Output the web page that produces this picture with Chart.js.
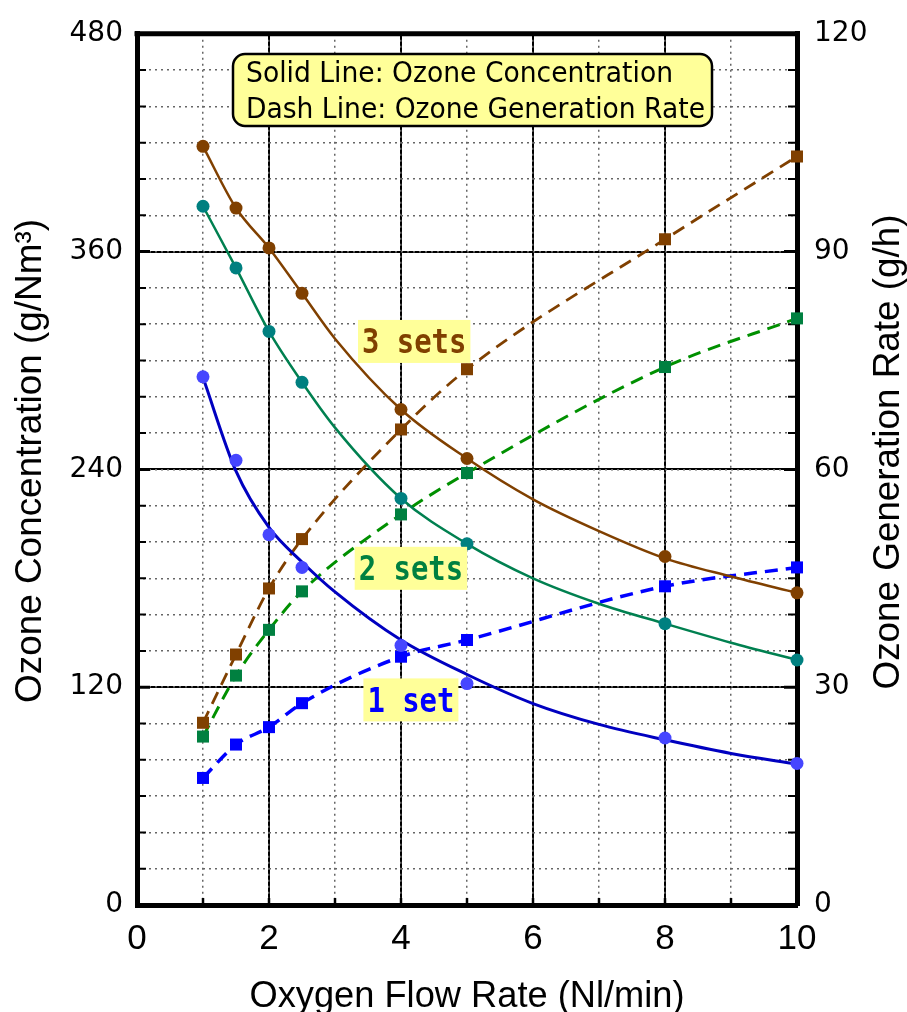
<!DOCTYPE html>
<html>
<head>
<meta charset="utf-8">
<script src="https://cdn.jsdelivr.net/npm/chart.js@4.4.0/dist/chart.umd.min.js"></script>
<style>
  html, body { margin: 0; padding: 0; background: #fff; }
  #wrap { width: 907px; height: 1012px; }
</style>
</head>
<body>
<div id="wrap"><canvas id="ozoneChart" width="907" height="1012"></canvas></div>
<script>
// Oxygen flow rate (Nl/min) of every measured point
const flowRate = [1, 1.5, 2, 2.5, 4, 5, 8, 10];

// Ozone concentration (g/Nm3), measured points
const conc3Sets = [418, 384, 362, 337, 273, 246, 192, 172];
const conc2Sets = [385, 351, 316, 288, 224, 199, 155, 135];
const conc1Sets = [291, 245, 204, 186, 143, 122, 92, 78];

// Solid trend lines
const curveFlow = [1, 1.5, 2, 2.5, 3, 4, 5, 6, 7, 8, 9, 10];
const curve3Sets = [418, 384, 362, 337, 312, 273, 246, 223.5, 206, 191, 181, 172];
const curve2Sets = [385, 351, 316, 288, 263, 224, 199, 180, 166, 155, 144.5, 135];
const curve1Set = [290.6, 239, 208, 189, 172.5, 146, 127, 111, 99.5, 91, 83.5, 77.6];

// Ozone generation rate (g/h)
const rate3Sets = [25.1, 34.5, 43.6, 50.4, 65.5, 73.8, 91.7, 103.1];
const rate2Sets = [23.2, 31.6, 37.9, 43.2, 53.8, 59.5, 74.1, 80.8];
const rate1Sets = [17.5, 22.1, 24.5, 27.8, 34.2, 36.5, 43.9, 46.5];

// Tick labels and minor grid positions
const flowTicks = [0, 2, 4, 6, 8, 10];
const flowMinorTicks = [0, 1, 2, 3, 4, 5, 6, 7, 8, 9, 10];
const concTicks = [0, 120, 240, 360, 480];
const concMinorTicks = [0, 20, 40, 60, 80, 100, 120, 140, 160, 180, 200, 220, 240,
                        260, 280, 300, 320, 340, 360, 380, 400, 420, 440, 460, 480];
const rateTicks = [0, 30, 60, 90, 120];

const BROWN = '#804000';

// in-plot series labels, placed in data units
const seriesLabels = [
    { text: '3 sets', x: 4.2, y: 310.5, color: BROWN },
    { text: '2 sets', x: 4.15, y: 185.5, color: '#008040' },
    { text: '1 set', x: 4.15, y: 113, color: '#0000ff' }
];

function toPoints(xs, ys) {
    return xs.map((x, i) => ({ x: x, y: ys[i] }));
}

function useTicks(values) {
    return function(scale) {
        scale.ticks = values.map(v => ({ value: v }));
    };
}

function drawStretched(ctx, text, x, y, width, font, color, angle, align, baseline) {
    ctx.save();
    ctx.translate(x, y);
    if (angle) ctx.rotate(angle);
    ctx.font = font;
    const natural = ctx.measureText(text).width;
    ctx.scale(width / natural, 1);
    ctx.fillStyle = color;
    ctx.textAlign = align || 'center';
    ctx.textBaseline = baseline || 'alphabetic';
    ctx.fillText(text, 0, 0);
    ctx.restore();
}

function roundRect(ctx, x, y, w, h, r) {
    ctx.beginPath();
    ctx.moveTo(x + r, y);
    ctx.lineTo(x + w - r, y);
    ctx.arcTo(x + w, y, x + w, y + r, r);
    ctx.lineTo(x + w, y + h - r);
    ctx.arcTo(x + w, y + h, x + w - r, y + h, r);
    ctx.lineTo(x + r, y + h);
    ctx.arcTo(x, y + h, x, y + h - r, r);
    ctx.lineTo(x, y + r);
    ctx.arcTo(x, y, x + r, y, r);
    ctx.closePath();
}

const decorPlugin = {
    id: 'decor',
    beforeDatasetsDraw(chart) {
        const ctx = chart.ctx;
        const a = chart.chartArea;
        const xs = chart.scales.x, ys = chart.scales.y;
        ctx.save();
        ctx.strokeStyle = '#000';
        // top frame line
        ctx.lineWidth = 5;
        ctx.beginPath();
        ctx.moveTo(a.left - 2.5, a.top);
        ctx.lineTo(a.right + 2.5, a.top);
        ctx.stroke();
        // inward tick marks
        concMinorTicks.forEach(v => {
            const py = ys.getPixelForValue(v);
            const major = concTicks.includes(v);
            ctx.lineWidth = major ? 3 : 2;
            const len = major ? 13 : 9;
            ctx.beginPath();
            ctx.moveTo(a.left, py); ctx.lineTo(a.left + len, py);
            ctx.moveTo(a.right, py); ctx.lineTo(a.right - len, py);
            ctx.stroke();
        });
        flowMinorTicks.forEach(v => {
            const px = xs.getPixelForValue(v);
            ctx.lineWidth = 2.5;
            ctx.beginPath();
            ctx.moveTo(px, a.bottom); ctx.lineTo(px, a.bottom - 7);
            ctx.stroke();
        });
        ctx.restore();
    },
    afterDatasetsDraw(chart) {
        const ctx = chart.ctx;
        const a = chart.chartArea;
        const xs = chart.scales.x, ys = chart.scales.y;
        ctx.save();
        // legend box
        roundRect(ctx, a.left + 96, 54, 479, 72, 12);
        ctx.fillStyle = '#ffff99';
        ctx.fill();
        ctx.lineWidth = 2.5;
        ctx.strokeStyle = '#000';
        ctx.stroke();
        drawStretched(ctx, 'Solid Line: Ozone Concentration', a.left + 109, 82, 427,
            '28px "DejaVu Sans"', '#000', 0, 'left');
        drawStretched(ctx, 'Dash Line: Ozone Generation Rate', a.left + 109, 118, 459,
            '28px "DejaVu Sans"', '#000', 0, 'left');
        // series labels
        seriesLabels.forEach(l => {
            const cx = xs.getPixelForValue(l.x);
            const cy = ys.getPixelForValue(l.y);
            const w = l.text.length * 17.4;
            ctx.fillStyle = '#ffff99';
            ctx.fillRect(cx - w / 2 - 4, cy - 21.5, w + 8, 43);
            drawStretched(ctx, l.text, cx, cy + 12, w, 'bold 33px "DejaVu Sans Mono"', l.color, 0, 'center');
        });
        ctx.restore();
    },
    afterDraw(chart) {
        const ctx = chart.ctx;
        const a = chart.chartArea;
        drawStretched(ctx, 'Oxygen Flow Rate (Nl/min)', (a.left + a.right) / 2, 1007, 435,
            '37px "Liberation Sans"', '#000', 0, 'center');
        drawStretched(ctx, 'Ozone Concentration (g/Nm\u00b3)', 41, 461, 484,
            '37px "Liberation Sans"', '#000', -Math.PI / 2, 'center');
        drawStretched(ctx, 'Ozone Generation Rate (g/h)', 899, 452, 475,
            '37px "Liberation Sans"', '#000', -Math.PI / 2, 'center');
    }
};

function curveSet(label, xs, ys, color, width) {
    return {
        label: label,
        data: toPoints(xs, ys),
        yAxisID: 'y',
        borderColor: color,
        borderWidth: width,
        pointRadius: 0,
        cubicInterpolationMode: 'monotone',
        clip: false
    };
}

function dotSet(label, ys, color) {
    return {
        label: label,
        data: toPoints(flowRate, ys),
        yAxisID: 'y',
        showLine: false,
        pointRadius: 6.5,
        pointBackgroundColor: color,
        pointBorderWidth: 0,
        clip: false
    };
}

function rateSet(label, ys, lineColor, markColor, width) {
    return {
        label: label,
        data: toPoints(flowRate, ys),
        yAxisID: 'y2',
        borderColor: lineColor,
        borderWidth: width,
        borderDash: [13, 8],
        pointStyle: 'rect',
        pointRadius: 8.5,
        pointBackgroundColor: markColor,
        pointBorderWidth: 0,
        cubicInterpolationMode: 'monotone',
        clip: false
    };
}

document.addEventListener('DOMContentLoaded', function() {
    const ctx = document.getElementById('ozoneChart').getContext('2d');
    const tickFont = { family: '"DejaVu Sans"', size: 28 };

    new Chart(ctx, {
        type: 'line',
        data: {
            datasets: [
                dotSet('Concentration 3 sets', conc3Sets, BROWN),
                dotSet('Concentration 2 sets', conc2Sets, '#008080'),
                dotSet('Concentration 1 set', conc1Sets, '#4646ff'),
                curveSet('Trend 3 sets', curveFlow, curve3Sets, BROWN, 2.5),
                curveSet('Trend 2 sets', curveFlow, curve2Sets, '#008050', 2.5),
                curveSet('Trend 1 set', curveFlow, curve1Set, '#0000c0', 3),
                rateSet('Generation 3 sets', rate3Sets, BROWN, BROWN, 2.8),
                rateSet('Generation 2 sets', rate2Sets, '#009000', '#008040', 3),
                rateSet('Generation 1 set', rate1Sets, '#0000ff', '#0000ff', 3.5)
            ]
        },
        options: {
            responsive: false,
            animation: false,
            devicePixelRatio: 1,
            layout: { padding: { top: 28, left: 0, right: 0, bottom: 0 } },
            plugins: {
                legend: { display: false },
                tooltip: { enabled: false }
            },
            scales: {
                x: {
                    type: 'linear',
                    position: 'bottom',
                    min: 0,
                    max: 10,
                    afterBuildTicks: useTicks(flowTicks),
                    afterFit: s => { s.height = 107; },
                    ticks: {
                        color: '#000',
                        font: { family: '"Liberation Sans"', size: 35 },
                        padding: 13,
                        maxRotation: 0,
                        autoSkip: false
                    },
                    grid: { color: '#000', lineWidth: 2, drawTicks: false },
                    border: { color: '#000', width: 5 }
                },
                xm: {
                    type: 'linear',
                    position: 'bottom',
                    min: 0,
                    max: 10,
                    afterBuildTicks: useTicks(flowMinorTicks),
                    afterFit: s => { s.height = 0; },
                    ticks: { display: false },
                    grid: { color: '#666', lineWidth: 1.5, drawTicks: false, z: -1 },
                    border: { display: false, dash: [2, 4] }
                },
                y: {
                    type: 'linear',
                    position: 'left',
                    min: 0,
                    max: 480,
                    afterBuildTicks: useTicks(concTicks),
                    afterFit: s => { s.width = 137; },
                    ticks: { color: '#000', font: tickFont, padding: 14 },
                    grid: { color: '#000', lineWidth: 2, drawTicks: false },
                    border: { color: '#000', width: 5 }
                },
                ym: {
                    type: 'linear',
                    position: 'left',
                    min: 0,
                    max: 480,
                    afterBuildTicks: useTicks(concMinorTicks),
                    afterFit: s => { s.width = 0; },
                    ticks: { display: false },
                    grid: { color: '#666', lineWidth: 1.5, drawTicks: false, z: -1 },
                    border: { display: false, dash: [2, 4] }
                },
                y2: {
                    type: 'linear',
                    position: 'right',
                    min: 0,
                    max: 120,
                    afterBuildTicks: useTicks(rateTicks),
                    afterFit: s => { s.width = 110; },
                    ticks: { color: '#000', font: tickFont, padding: 17 },
                    grid: { drawOnChartArea: false, drawTicks: false },
                    border: { color: '#000', width: 5 }
                }
            }
        },
        plugins: [decorPlugin]
    });
});
</script>
</body>
</html>
